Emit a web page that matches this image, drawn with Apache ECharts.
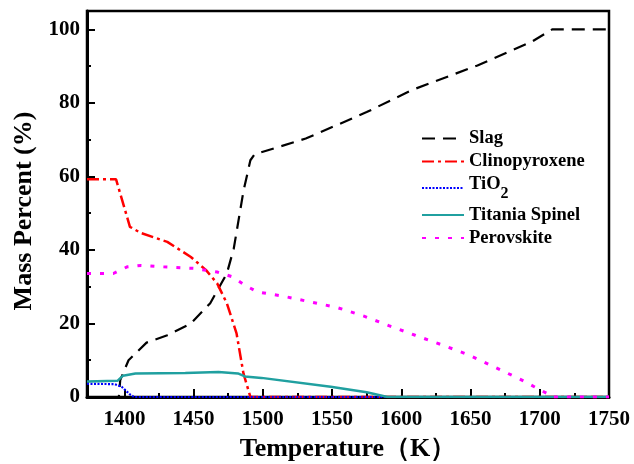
<!DOCTYPE html>
<html>
<head>
<meta charset="utf-8">
<script src="https://cdn.jsdelivr.net/npm/echarts@6/dist/echarts.min.js"></script>
<style>html,body{margin:0;padding:0;background:#fff;}#c{width:634px;height:464px;}</style>
</head>
<body>
<div id="c"></div>
<script>
// Temperature (K) / mass percent pairs
var slag = [[1373,0],[1396,0],[1397,4.6],[1403,10],[1416,14.8],[1431,16.8],[1448,20],[1462,25.5],[1474,33.6],[1479,40.4],[1486,56],[1491,64.4],[1494,66],[1531,70.3],[1575,77.5],[1607,83.4],[1655,90.2],[1694,96.6],[1709,100],[1750,100]];
var clinopyroxene = [[1373,59.2],[1394,59.2],[1404,46.3],[1412,44.6],[1431,42.2],[1448,38.1],[1459,34.5],[1467,30.9],[1474,25.5],[1481,17.3],[1486,6.4],[1491,0],[1750,0]];
var tio2 = [[1373,3.6],[1393,3.5],[1398,2.8],[1402,1.4],[1404,0.7],[1407,0],[1750,0]];
var titaniaSpinel = [[1373,4.2],[1395,4.4],[1399,5.8],[1408,6.4],[1444,6.5],[1468,6.8],[1482,6.4],[1487,5.6],[1499,5.2],[1549,2.8],[1575,1.3],[1590,0],[1750,0]];
var perovskite = [[1373,33.6],[1392,33.6],[1402,35.4],[1412,35.8],[1428,35.4],[1450,35],[1467,34],[1478,32.7],[1488,30.2],[1496,28.6],[1515,27.4],[1534,25.9],[1554,24.3],[1573,22],[1591,19.4],[1610,16.8],[1630,14.1],[1649,11.4],[1667,8.2],[1686,4.8],[1696,2.8],[1705,1],[1708,0],[1750,0]];

var seriesNames = ['Slag','Clinopyroxene','TiO2','Titania Spinel','Perovskite'];
var xMajorTicks = [1400,1450,1500,1550,1600,1650,1700,1750];
var xMinorTicks = [1425,1475,1525,1575,1625,1675,1725];
var yMajorTicks = [0,20,40,60,80,100];
var yMinorTicks = [10,30,50,70,90];

var FONT = '"Liberation Serif","Times New Roman",serif';
var chart = echarts.init(document.getElementById('c'), null, {renderer:'canvas'});

function plain(v){ return String(v); }

function mkX(ticks, len, showLabel, showLine){
  return {
    type:'value', min:1373, max:1750, position:'bottom',
    axisLine:{show:showLine, onZero:false, lineStyle:{color:'#000', width:3}},
    axisTick:{show:true, inside:true, length:len, customValues:ticks, lineStyle:{color:'#000', width:2}},
    axisLabel:{show:showLabel, customValues:ticks, formatter:plain, margin:12, color:'#000', fontFamily:FONT, fontWeight:'bold', fontSize:21},
    splitLine:{show:false},
    name: showLabel ? 'Temperature（K）' : '',
    nameLocation:'middle', nameGap:39,
    nameTextStyle:{color:'#000', fontFamily:FONT, fontWeight:'bold', fontSize:26}
  };
}
function mkY(ticks, len, showLabel, showLine){
  return {
    type:'value', min:0, max:105, position:'left',
    axisLine:{show:showLine, onZero:false, lineStyle:{color:'#000', width:3}},
    axisTick:{show:true, inside:true, length:len, customValues:ticks, lineStyle:{color:'#000', width:2}},
    axisLabel:{show:showLabel, customValues:ticks, formatter:plain, margin:7, color:'#000', fontFamily:FONT, fontWeight:'bold', fontSize:21},
    splitLine:{show:false},
    name: showLabel ? 'Mass Percent (%)' : '',
    nameLocation:'middle', nameGap:50,
    nameTextStyle:{color:'#000', fontFamily:FONT, fontWeight:'bold', fontSize:26, padding:[0,14,0,0]}
  };
}

function mkSeries(name, data, color, width, dash){
  return {
    name:name, type:'line', data:data, symbol:'none', xAxisIndex:0, yAxisIndex:0,
    lineStyle:{color:color, width:width, type:dash},
    itemStyle:{color:color, opacity:0},
    animation:false
  };
}

chart.setOption({
  animation:false,
  backgroundColor:'#fff',
  grid:{left:87, right:25, top:11, bottom:67, show:true, borderColor:'#000', borderWidth:2.5, backgroundColor:'transparent', containLabel:false, outerBoundsMode:'none'},
  xAxis:[mkX(xMajorTicks, 8, true, true), mkX(xMinorTicks, 4, false, false)],
  yAxis:[mkY(yMajorTicks, 8, true, true), mkY(yMinorTicks, 4, false, false)],
  legend:{
    orient:'vertical', left:416, top:124, itemWidth:42, itemHeight:14, itemGap:4,
    data:seriesNames,
    itemStyle:{opacity:0},
    textStyle:{color:'#000', fontFamily:FONT, fontWeight:'bold', fontSize:18.5,
      rich:{
        m:{color:'#000', fontFamily:FONT, fontWeight:'bold', fontSize:18.5, padding:[0,0,7,0]},
        s:{color:'#000', fontFamily:FONT, fontWeight:'bold', fontSize:16, padding:[11,0,0,0]}
      }},
    formatter:function(n){ return n==='TiO2' ? '{m|TiO}{s|2}' : n; }
  },
  series:[
    mkSeries('Slag', slag, '#000000', 2.2, [13,8]),
    mkSeries('Clinopyroxene', clinopyroxene, '#ff0000', 2.5, [12,4,3,4]),
    mkSeries('TiO2', tio2, '#0000ff', 2.2, [2,1.5]),
    mkSeries('Titania Spinel', titaniaSpinel, '#20a0a0', 2.5, 'solid'),
    mkSeries('Perovskite', perovskite, '#ff00ff', 3, [4,9])
  ]
});
</script>
</body>
</html>
